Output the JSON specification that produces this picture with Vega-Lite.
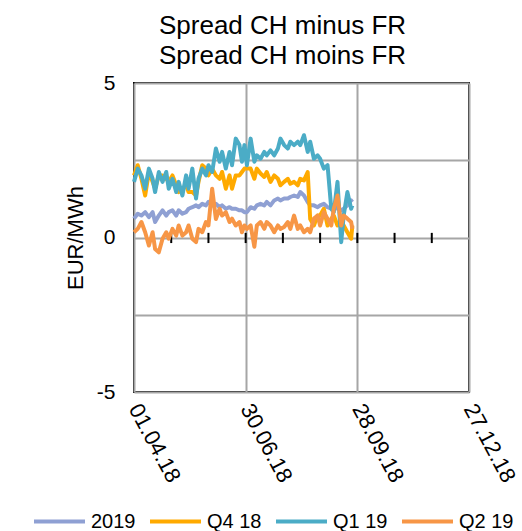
{
  "$schema": "https://vega.github.io/schema/vega-lite/v6.json",
  "autosize": {"type": "none"},
  "padding": {"left": 134, "top": 83, "right": 53, "bottom": 139},
  "width": 335,
  "height": 309,
  "background": "white",
  "config": {
    "view": {"stroke": "black", "strokeWidth": 2},
    "font": "Liberation Sans",
    "axis": {"labelFont": "Liberation Sans", "titleFont": "Liberation Sans", "labelColor": "black", "titleColor": "black", "titleFontWeight": "normal"},
    "legend": {"labelFont": "Liberation Sans", "labelColor": "black"}
  },
  "title": {
    "text": ["Spread CH minus FR", "Spread CH moins FR"],
    "fontSize": 26,
    "fontWeight": "normal",
    "font": "Liberation Sans",
    "color": "black",
    "lineHeight": 30,
    "dx": -19,
    "offset": 3
  },
  "layer": [
    {
      "mark": {"type": "rule", "color": "black", "strokeWidth": 2},
      "encoding": {"y": {"datum": 0}}
    },
    {
      "data": {"values": [
        {"t": "2018-05-01"}, {"t": "2018-05-31"}, {"t": "2018-06-30"}, {"t": "2018-07-30"},
        {"t": "2018-08-29"}, {"t": "2018-09-28"}, {"t": "2018-10-28"}, {"t": "2018-11-27"}
      ]},
      "mark": {"type": "rule", "color": "black", "strokeWidth": 2},
      "encoding": {
        "x": {"field": "t", "type": "temporal", "scale": {"type": "utc", "domain": [{"year": 2018, "month": 4, "date": 1, "utc": true}, {"year": 2018, "month": 12, "date": 27, "utc": true}]}},
        "y": {"datum": 0.15},
        "y2": {"datum": -0.18}
      }
    },
    {
      "data": {"values": [
        {"d":"2018-04-01","s":"2019","v":0.61},{"d":"2018-04-04","s":"2019","v":0.77},{"d":"2018-04-07","s":"2019","v":0.71},{"d":"2018-04-10","s":"2019","v":0.82},{"d":"2018-04-13","s":"2019","v":0.66},{"d":"2018-04-16","s":"2019","v":0.82},{"d":"2018-04-18","s":"2019","v":0.50},{"d":"2018-04-21","s":"2019","v":0.71},{"d":"2018-04-24","s":"2019","v":0.88},{"d":"2018-04-27","s":"2019","v":0.71},{"d":"2018-04-29","s":"2019","v":0.82},{"d":"2018-05-02","s":"2019","v":0.88},{"d":"2018-05-05","s":"2019","v":0.71},{"d":"2018-05-07","s":"2019","v":0.88},{"d":"2018-05-10","s":"2019","v":0.77},{"d":"2018-05-13","s":"2019","v":0.82},{"d":"2018-05-15","s":"2019","v":0.93},{"d":"2018-05-18","s":"2019","v":0.98},{"d":"2018-05-21","s":"2019","v":1.04},{"d":"2018-05-23","s":"2019","v":0.98},{"d":"2018-05-26","s":"2019","v":1.09},{"d":"2018-05-29","s":"2019","v":1.04},{"d":"2018-05-31","s":"2019","v":1.15},{"d":"2018-06-03","s":"2019","v":1.04},{"d":"2018-06-06","s":"2019","v":1.09},{"d":"2018-06-09","s":"2019","v":0.98},{"d":"2018-06-11","s":"2019","v":1.04},{"d":"2018-06-14","s":"2019","v":0.93},{"d":"2018-06-17","s":"2019","v":0.98},{"d":"2018-06-19","s":"2019","v":0.93},{"d":"2018-06-22","s":"2019","v":0.93},{"d":"2018-06-25","s":"2019","v":0.88},{"d":"2018-06-27","s":"2019","v":0.88},{"d":"2018-06-29","s":"2019","v":0.82},
        {"d":"2018-07-01","s":"2019","v":0.82},{"d":"2018-07-04","s":"2019","v":0.98},{"d":"2018-07-07","s":"2019","v":0.93},{"d":"2018-07-09","s":"2019","v":1.04},{"d":"2018-07-12","s":"2019","v":1.09},{"d":"2018-07-15","s":"2019","v":1.04},{"d":"2018-07-17","s":"2019","v":1.15},{"d":"2018-07-20","s":"2019","v":1.04},{"d":"2018-07-23","s":"2019","v":1.20},{"d":"2018-07-26","s":"2019","v":1.26},{"d":"2018-07-28","s":"2019","v":1.20},{"d":"2018-07-31","s":"2019","v":1.26},{"d":"2018-08-03","s":"2019","v":1.26},{"d":"2018-08-05","s":"2019","v":1.31},{"d":"2018-08-08","s":"2019","v":1.36},{"d":"2018-08-11","s":"2019","v":1.31},{"d":"2018-08-13","s":"2019","v":1.47},{"d":"2018-08-16","s":"2019","v":1.36},{"d":"2018-08-19","s":"2019","v":1.15},{"d":"2018-08-21","s":"2019","v":1.04},{"d":"2018-08-24","s":"2019","v":1.04},{"d":"2018-08-27","s":"2019","v":0.98},{"d":"2018-08-29","s":"2019","v":1.04},{"d":"2018-09-01","s":"2019","v":1.09},{"d":"2018-09-04","s":"2019","v":0.98},{"d":"2018-09-07","s":"2019","v":0.93},{"d":"2018-09-09","s":"2019","v":1.04},{"d":"2018-09-12","s":"2019","v":0.93},{"d":"2018-09-15","s":"2019","v":0.88},{"d":"2018-09-17","s":"2019","v":0.93},{"d":"2018-09-20","s":"2019","v":1.04},{"d":"2018-09-23","s":"2019","v":1.20},{"d":"2018-09-24","s":"2019","v":1.15},

        {"d":"2018-04-01","s":"Q4 18","v":2.01},{"d":"2018-04-04","s":"Q4 18","v":2.34},{"d":"2018-04-07","s":"Q4 18","v":1.90},{"d":"2018-04-10","s":"Q4 18","v":1.36},{"d":"2018-04-13","s":"Q4 18","v":2.12},{"d":"2018-04-16","s":"Q4 18","v":1.80},{"d":"2018-04-18","s":"Q4 18","v":1.58},{"d":"2018-04-21","s":"Q4 18","v":2.01},{"d":"2018-04-24","s":"Q4 18","v":2.01},{"d":"2018-04-27","s":"Q4 18","v":1.90},{"d":"2018-04-29","s":"Q4 18","v":1.80},{"d":"2018-05-02","s":"Q4 18","v":2.01},{"d":"2018-05-05","s":"Q4 18","v":1.69},{"d":"2018-05-07","s":"Q4 18","v":1.47},{"d":"2018-05-10","s":"Q4 18","v":1.58},{"d":"2018-05-13","s":"Q4 18","v":1.69},{"d":"2018-05-15","s":"Q4 18","v":1.47},{"d":"2018-05-18","s":"Q4 18","v":1.47},{"d":"2018-05-21","s":"Q4 18","v":1.36},{"d":"2018-05-23","s":"Q4 18","v":1.80},{"d":"2018-05-26","s":"Q4 18","v":2.34},{"d":"2018-05-29","s":"Q4 18","v":2.23},{"d":"2018-05-31","s":"Q4 18","v":2.01},{"d":"2018-06-03","s":"Q4 18","v":2.23},{"d":"2018-06-06","s":"Q4 18","v":2.01},{"d":"2018-06-09","s":"Q4 18","v":1.90},{"d":"2018-06-11","s":"Q4 18","v":2.12},{"d":"2018-06-14","s":"Q4 18","v":1.58},{"d":"2018-06-17","s":"Q4 18","v":2.01},{"d":"2018-06-19","s":"Q4 18","v":1.58},{"d":"2018-06-22","s":"Q4 18","v":2.01},{"d":"2018-06-25","s":"Q4 18","v":2.01},{"d":"2018-06-27","s":"Q4 18","v":2.12},{"d":"2018-06-29","s":"Q4 18","v":2.23},
        {"d":"2018-07-01","s":"Q4 18","v":2.23},{"d":"2018-07-04","s":"Q4 18","v":2.23},{"d":"2018-07-07","s":"Q4 18","v":1.90},{"d":"2018-07-09","s":"Q4 18","v":2.23},{"d":"2018-07-12","s":"Q4 18","v":2.07},{"d":"2018-07-15","s":"Q4 18","v":1.96},{"d":"2018-07-17","s":"Q4 18","v":2.12},{"d":"2018-07-20","s":"Q4 18","v":1.80},{"d":"2018-07-23","s":"Q4 18","v":2.01},{"d":"2018-07-26","s":"Q4 18","v":1.90},{"d":"2018-07-28","s":"Q4 18","v":1.69},{"d":"2018-07-31","s":"Q4 18","v":1.80},{"d":"2018-08-03","s":"Q4 18","v":1.90},{"d":"2018-08-05","s":"Q4 18","v":1.74},{"d":"2018-08-08","s":"Q4 18","v":1.80},{"d":"2018-08-11","s":"Q4 18","v":1.69},{"d":"2018-08-13","s":"Q4 18","v":1.90},{"d":"2018-08-16","s":"Q4 18","v":1.85},{"d":"2018-08-19","s":"Q4 18","v":2.12},{"d":"2018-08-21","s":"Q4 18","v":0.60},{"d":"2018-08-24","s":"Q4 18","v":0.39},{"d":"2018-08-27","s":"Q4 18","v":0.71},{"d":"2018-08-29","s":"Q4 18","v":0.71},{"d":"2018-09-01","s":"Q4 18","v":0.93},{"d":"2018-09-04","s":"Q4 18","v":0.39},{"d":"2018-09-07","s":"Q4 18","v":0.61},{"d":"2018-09-09","s":"Q4 18","v":0.71},{"d":"2018-09-12","s":"Q4 18","v":0.39},{"d":"2018-09-15","s":"Q4 18","v":0.50},{"d":"2018-09-17","s":"Q4 18","v":0.39},{"d":"2018-09-20","s":"Q4 18","v":0.17},{"d":"2018-09-23","s":"Q4 18","v":-0.04},{"d":"2018-09-24","s":"Q4 18","v":0.39},

        {"d":"2018-04-01","s":"Q1 19","v":1.80},{"d":"2018-04-04","s":"Q1 19","v":2.23},{"d":"2018-04-07","s":"Q1 19","v":2.01},{"d":"2018-04-10","s":"Q1 19","v":1.58},{"d":"2018-04-13","s":"Q1 19","v":2.23},{"d":"2018-04-16","s":"Q1 19","v":1.90},{"d":"2018-04-18","s":"Q1 19","v":1.47},{"d":"2018-04-21","s":"Q1 19","v":2.12},{"d":"2018-04-24","s":"Q1 19","v":1.80},{"d":"2018-04-27","s":"Q1 19","v":2.12},{"d":"2018-04-29","s":"Q1 19","v":1.58},{"d":"2018-05-02","s":"Q1 19","v":1.90},{"d":"2018-05-05","s":"Q1 19","v":1.47},{"d":"2018-05-07","s":"Q1 19","v":1.80},{"d":"2018-05-10","s":"Q1 19","v":1.36},{"d":"2018-05-13","s":"Q1 19","v":2.01},{"d":"2018-05-15","s":"Q1 19","v":1.58},{"d":"2018-05-18","s":"Q1 19","v":2.23},{"d":"2018-05-21","s":"Q1 19","v":1.26},{"d":"2018-05-23","s":"Q1 19","v":1.90},{"d":"2018-05-26","s":"Q1 19","v":2.23},{"d":"2018-05-29","s":"Q1 19","v":2.01},{"d":"2018-05-31","s":"Q1 19","v":2.34},{"d":"2018-06-03","s":"Q1 19","v":2.12},{"d":"2018-06-06","s":"Q1 19","v":2.88},{"d":"2018-06-09","s":"Q1 19","v":2.45},{"d":"2018-06-11","s":"Q1 19","v":2.77},{"d":"2018-06-14","s":"Q1 19","v":2.23},{"d":"2018-06-17","s":"Q1 19","v":2.77},{"d":"2018-06-19","s":"Q1 19","v":2.34},{"d":"2018-06-22","s":"Q1 19","v":3.20},{"d":"2018-06-25","s":"Q1 19","v":2.99},{"d":"2018-06-27","s":"Q1 19","v":2.45},{"d":"2018-06-29","s":"Q1 19","v":2.99},
        {"d":"2018-07-01","s":"Q1 19","v":2.34},{"d":"2018-07-04","s":"Q1 19","v":3.20},{"d":"2018-07-07","s":"Q1 19","v":2.45},{"d":"2018-07-09","s":"Q1 19","v":2.66},{"d":"2018-07-12","s":"Q1 19","v":2.55},{"d":"2018-07-15","s":"Q1 19","v":2.77},{"d":"2018-07-17","s":"Q1 19","v":2.66},{"d":"2018-07-20","s":"Q1 19","v":2.82},{"d":"2018-07-23","s":"Q1 19","v":2.66},{"d":"2018-07-26","s":"Q1 19","v":2.88},{"d":"2018-07-28","s":"Q1 19","v":3.20},{"d":"2018-07-31","s":"Q1 19","v":2.99},{"d":"2018-08-03","s":"Q1 19","v":2.88},{"d":"2018-08-05","s":"Q1 19","v":3.10},{"d":"2018-08-08","s":"Q1 19","v":2.99},{"d":"2018-08-11","s":"Q1 19","v":3.10},{"d":"2018-08-13","s":"Q1 19","v":2.99},{"d":"2018-08-16","s":"Q1 19","v":3.31},{"d":"2018-08-19","s":"Q1 19","v":2.77},{"d":"2018-08-21","s":"Q1 19","v":3.10},{"d":"2018-08-24","s":"Q1 19","v":2.55},{"d":"2018-08-27","s":"Q1 19","v":2.66},{"d":"2018-08-29","s":"Q1 19","v":2.55},{"d":"2018-09-01","s":"Q1 19","v":2.23},{"d":"2018-09-04","s":"Q1 19","v":2.34},{"d":"2018-09-07","s":"Q1 19","v":0.93},{"d":"2018-09-09","s":"Q1 19","v":0.82},{"d":"2018-09-12","s":"Q1 19","v":1.80},{"d":"2018-09-15","s":"Q1 19","v":-0.15},{"d":"2018-09-17","s":"Q1 19","v":0.71},{"d":"2018-09-20","s":"Q1 19","v":1.47},{"d":"2018-09-23","s":"Q1 19","v":0.93},{"d":"2018-09-24","s":"Q1 19","v":1.04},

        {"d":"2018-04-01","s":"Q2 19","v":0.17},{"d":"2018-04-04","s":"Q2 19","v":0.28},{"d":"2018-04-07","s":"Q2 19","v":0.50},{"d":"2018-04-10","s":"Q2 19","v":0.17},{"d":"2018-04-13","s":"Q2 19","v":-0.26},{"d":"2018-04-16","s":"Q2 19","v":0.17},{"d":"2018-04-18","s":"Q2 19","v":-0.37},{"d":"2018-04-21","s":"Q2 19","v":-0.48},{"d":"2018-04-24","s":"Q2 19","v":-0.04},{"d":"2018-04-27","s":"Q2 19","v":0.17},{"d":"2018-04-29","s":"Q2 19","v":-0.04},{"d":"2018-05-02","s":"Q2 19","v":0.28},{"d":"2018-05-05","s":"Q2 19","v":0.06},{"d":"2018-05-07","s":"Q2 19","v":0.39},{"d":"2018-05-10","s":"Q2 19","v":0.06},{"d":"2018-05-13","s":"Q2 19","v":0.17},{"d":"2018-05-15","s":"Q2 19","v":0.39},{"d":"2018-05-18","s":"Q2 19","v":-0.04},{"d":"2018-05-21","s":"Q2 19","v":-0.15},{"d":"2018-05-23","s":"Q2 19","v":0.28},{"d":"2018-05-26","s":"Q2 19","v":0.17},{"d":"2018-05-29","s":"Q2 19","v":0.50},{"d":"2018-05-31","s":"Q2 19","v":0.39},{"d":"2018-06-03","s":"Q2 19","v":1.58},{"d":"2018-06-06","s":"Q2 19","v":0.60},{"d":"2018-06-09","s":"Q2 19","v":0.93},{"d":"2018-06-11","s":"Q2 19","v":0.71},{"d":"2018-06-14","s":"Q2 19","v":0.82},{"d":"2018-06-17","s":"Q2 19","v":0.50},{"d":"2018-06-19","s":"Q2 19","v":0.61},{"d":"2018-06-22","s":"Q2 19","v":0.39},{"d":"2018-06-25","s":"Q2 19","v":0.50},{"d":"2018-06-27","s":"Q2 19","v":0.17},{"d":"2018-06-29","s":"Q2 19","v":0.39},
        {"d":"2018-07-01","s":"Q2 19","v":0.28},{"d":"2018-07-04","s":"Q2 19","v":0.39},{"d":"2018-07-07","s":"Q2 19","v":-0.30},{"d":"2018-07-09","s":"Q2 19","v":0.39},{"d":"2018-07-12","s":"Q2 19","v":0.50},{"d":"2018-07-15","s":"Q2 19","v":0.28},{"d":"2018-07-17","s":"Q2 19","v":0.50},{"d":"2018-07-20","s":"Q2 19","v":0.39},{"d":"2018-07-23","s":"Q2 19","v":0.17},{"d":"2018-07-26","s":"Q2 19","v":0.39},{"d":"2018-07-28","s":"Q2 19","v":0.28},{"d":"2018-07-31","s":"Q2 19","v":0.34},{"d":"2018-08-03","s":"Q2 19","v":0.50},{"d":"2018-08-05","s":"Q2 19","v":0.28},{"d":"2018-08-08","s":"Q2 19","v":0.71},{"d":"2018-08-11","s":"Q2 19","v":0.28},{"d":"2018-08-13","s":"Q2 19","v":0.39},{"d":"2018-08-16","s":"Q2 19","v":0.17},{"d":"2018-08-19","s":"Q2 19","v":0.28},{"d":"2018-08-21","s":"Q2 19","v":0.17},{"d":"2018-08-24","s":"Q2 19","v":0.61},{"d":"2018-08-27","s":"Q2 19","v":0.71},{"d":"2018-08-29","s":"Q2 19","v":0.39},{"d":"2018-09-01","s":"Q2 19","v":0.82},{"d":"2018-09-04","s":"Q2 19","v":0.61},{"d":"2018-09-07","s":"Q2 19","v":0.39},{"d":"2018-09-09","s":"Q2 19","v":0.93},{"d":"2018-09-12","s":"Q2 19","v":1.36},{"d":"2018-09-15","s":"Q2 19","v":0.39},{"d":"2018-09-17","s":"Q2 19","v":0.71},{"d":"2018-09-20","s":"Q2 19","v":0.61},{"d":"2018-09-23","s":"Q2 19","v":0.50},{"d":"2018-09-24","s":"Q2 19","v":0.28}
      ]},
      "mark": {"type": "line", "strokeWidth": 4, "strokeJoin": "round"},
      "encoding": {
        "x": {
          "field": "d", "type": "temporal",
          "scale": {"type": "utc", "domain": [{"year": 2018, "month": 4, "date": 1, "utc": true}, {"year": 2018, "month": 12, "date": 27, "utc": true}]},
          "axis": {
            "title": null,
            "values": [{"year": 2018, "month": 4, "date": 1, "utc": true}, {"year": 2018, "month": 6, "date": 30, "utc": true}, {"year": 2018, "month": 9, "date": 28, "utc": true}, {"year": 2018, "month": 12, "date": 27, "utc": true}],
            "format": "%d.%m.%y",
            "grid": true, "gridColor": "#A6A6A6", "gridWidth": 2,
            "domain": false, "ticks": false, "tickSize": 0,
            "labelAngle": 62, "labelAlign": "left", "labelBaseline": "middle",
            "labelPadding": 13, "labelFontSize": 22, "labelOverlap": false, "labelBound": false, "labelFlush": false
          }
        },
        "y": {
          "field": "v", "type": "quantitative",
          "scale": {"domain": [-5, 5], "nice": false, "zero": false},
          "axis": {
            "title": "EUR/MWh", "titleFontSize": 22, "titleX": -59, "titleY": 154.5, "titleAngle": -90, "titleBaseline": "middle", "titleAlign": "center",
            "values": [-5, -2.5, 0, 2.5, 5],
            "labelExpr": "datum.value == 5 ? '5' : datum.value == 0 ? '0' : datum.value == -5 ? '-5' : ''",
            "grid": true, "gridColor": "#A6A6A6", "gridWidth": 2,
            "domain": false, "ticks": false, "tickSize": 0,
            "labelPadding": 19, "labelFontSize": 21, "labelOverlap": false, "labelBound": false, "labelFlush": false
          }
        },
        "color": {
          "field": "s", "type": "nominal",
          "scale": {"domain": ["2019", "Q4 18", "Q1 19", "Q2 19"], "range": ["#8FA0D3", "#FFAA00", "#4BACC6", "#F79646"]},
          "legend": {
            "title": null, "orient": "none", "legendX": -102, "legendY": 411, "direction": "horizontal",
            "padding": 0, "gridAlign": "none",
            "symbolType": "stroke", "symbolSize": 2601, "symbolStrokeWidth": 4,
            "labelFontSize": 20, "labelOffset": 4, "columnPadding": 6
          }
        }
      }
    }
  ]
}
